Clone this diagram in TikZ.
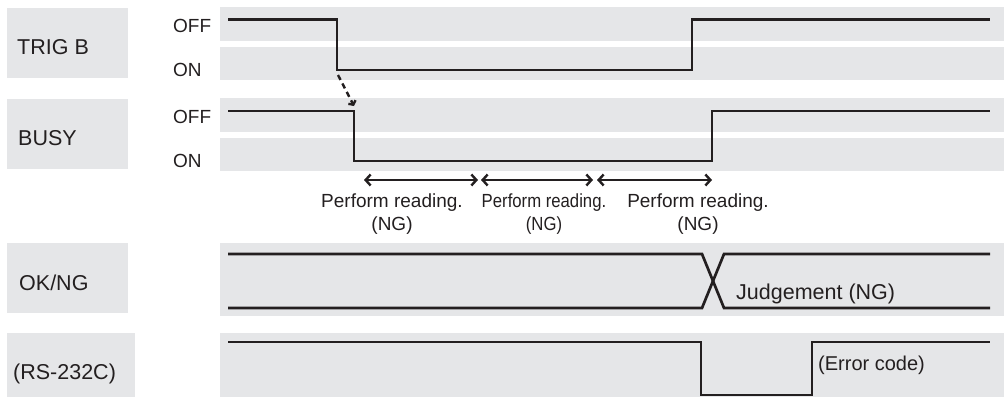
\documentclass[tikz,border=0pt]{standalone}
\usepackage{fontspec}
\setmainfont{Liberation Sans}
\newfontfamily\narrowfont[FakeStretch=0.88]{Liberation Sans}
\usetikzlibrary{arrows.meta}
\definecolor{tdgray}{RGB}{229,230,232}
\definecolor{tdink}{RGB}{35,31,32}

\begin{document}
\begin{tikzpicture}[x=1pt,y=-1pt,
      band/.style={fill=tdgray},
      sig/.style={draw=tdink,line width=2.7pt},
      signame/.style={anchor=base west,inner sep=0,text=tdink,font=\fontsize{21.5}{26}\selectfont},
      level/.style={anchor=base west,inner sep=0,text=tdink,font=\fontsize{19}{23}\selectfont},
      note/.style={anchor=north,align=center,inner sep=0,text=tdink,font=\fontsize{19}{23.5}\selectfont},
      span/.style={draw=tdink,line width=2.4pt,{Straight Barb[length=5pt,width=11pt]}-{Straight Barb[length=5pt,width=11pt]}},
      cause/.style={draw=tdink,line width=2.4pt,dash pattern=on 5.5pt off 4pt,-{Straight Barb[length=3pt,width=8pt]}}]
    \useasboundingbox (0,0) rectangle (1004,397);
    % grey bands
    \fill[band] (7,8) rectangle (128,78);
    \fill[band] (7,99) rectangle (128,169);
    \fill[band] (7,243) rectangle (128,313);
    \fill[band] (7,333) rectangle (135,397);
    \fill[band] (220,7) rectangle (1004,41);
    \fill[band] (220,47) rectangle (1004,80);
    \fill[band] (220,98) rectangle (1004,132);
    \fill[band] (220,138) rectangle (1004,171);
    \fill[band] (220,243) rectangle (1004,316);
    \fill[band] (220,333) rectangle (1004,397);
    % signal names
    \node[signame] (trig) at (17,54)  {TRIG B};
    \node[signame] (busy) at (18,145) {BUSY};
    \node[signame] (okng) at (19,290) {OK/NG};
    \node[signame] (rs)   at (13,379) {(RS-232C)};
    \node[level] (trigoff) at (173,32)  {OFF};
    \node[level] (trigon)  at (173,76)  {ON};
    \node[level] (busyoff) at (173,123) {OFF};
    \node[level] (busyon)  at (173,167) {ON};
    % waveforms
    \draw[sig] (228,19.5) -| (337,70) -| (692,19.5) -- (990,19.5);
    \draw[sig] (228,111) -| (354,161) -| (712,111) -- (990,111);
    \draw[sig] (228,254) -- (702,254) -- (724,308) -- (990,308);
    \draw[sig] (228,308) -- (702,308) -- (724,254) -- (990,254);
    \draw[sig] (228,342) -| (701,395) -| (812,342) -- (990,342);
    % trigger -> busy
    \coordinate (trigfall) at (338,75);
    \coordinate (busyfall) at (354,106);
    \draw[cause] (trigfall) -- (busyfall);
    % reading spans
    \coordinate (s0) at (364,180);
    \coordinate (s1) at (478,180);
    \coordinate (s2) at (481,180);
    \coordinate (s3) at (593,180);
    \coordinate (s4) at (597,180);
    \coordinate (s5) at (712,180);
    \draw[span] (s0) -- (s1);
    \draw[span] (s2) -- (s3);
    \draw[span] (s4) -- (s5);
    \node[note] (read1) at (392,193.5) {Perform reading.\\(NG)};
    \node[note,font=\narrowfont\fontsize{19}{23.5}\selectfont] (read2) at (544,193.5) {Perform reading.\\(NG)};
    \node[note] (read3) at (698,193.5) {Perform reading.\\(NG)};
    \node[signame] (judge) at (736,299) {Judgement (NG)};
    \node[level,font=\fontsize{20}{24}\selectfont] (err) at (818,370) {(Error code)};
  \end{tikzpicture}
\end{document}
